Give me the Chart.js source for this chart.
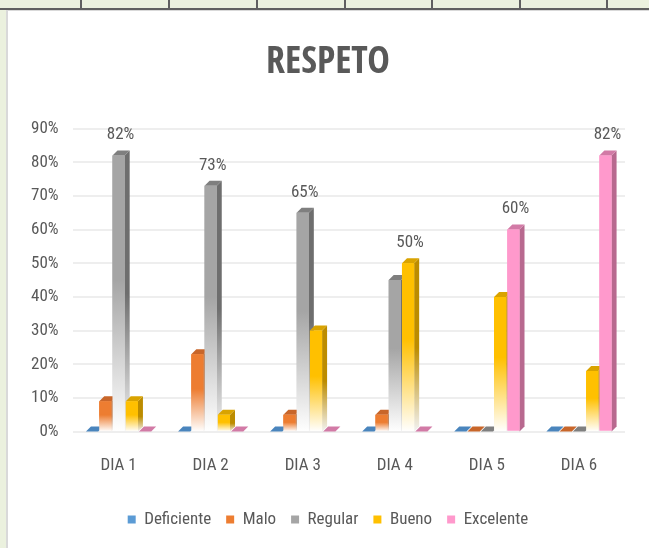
<!DOCTYPE html>
<html>
<head>
<meta charset="utf-8">
<script src="https://cdn.jsdelivr.net/npm/chart.js@4"></script>
<style>
  body { margin: 0; width: 649px; height: 548px; overflow: hidden; background: #ebf1de; position: relative; }
  .row { position: absolute; left: 0; top: 0; width: 649px; height: 8px; border-bottom: 2px solid #5f5f5f; }
  .cell { position: absolute; top: 0; width: 2px; height: 8px; background: #5f5f5f; }
  #box { position: absolute; left: 6px; top: 10px; width: 641px; height: 538px; background: #fff; border-left: 2px solid #d9d9d9; border-top: 1px solid #d9d9d9; }
</style>
</head>
<body>
<div class="row"></div>
<div class="cell" style="left:80px"></div>
<div class="cell" style="left:168px"></div>
<div class="cell" style="left:256px"></div>
<div class="cell" style="left:344px"></div>
<div class="cell" style="left:431px"></div>
<div class="cell" style="left:519px"></div>
<div class="cell" style="left:606px"></div>
<div id="box"><canvas id="myChart" width="641" height="537"></canvas></div>
<script>
const days = ["DIA 1", "DIA 2", "DIA 3", "DIA 4", "DIA 5", "DIA 6"];
const deficiente = [0, 0, 0, 0, 0, 0];
const malo = [9, 23, 5, 5, 0, 0];
const regular = [82, 73, 65, 45, 0, 0];
const bueno = [9, 5, 30, 50, 40, 18];
const excelente = [0, 0, 0, 0, 60, 82];

const FONT = "'Roboto Condensed', 'Open Sans Condensed', sans-serif";
const TITLE_FONT = "'Open Sans Condensed', 'Roboto Condensed', sans-serif";
const cxt = document.querySelector("#myChart");

// colors: front, side, top, fades toward the floor or not
const looks = [
  { front: "#5b9bd5", side: "#41719c", top: "#4a85bd", fade: true },
  { front: "#ed7d31", side: "#ae5a21", top: "#c8662a", fade: true },
  { front: "#a5a5a5", side: "#6e6e6e", top: "#7f7f7f", fade: true },
  { front: "#ffc000", side: "#bc8c00", top: "#d9a300", fade: true },
  { front: "#ff99cc", side: "#b8698f", top: "#d27aa6", fade: false },
];

function fadeFill(look) {
  return (c) => {
    const chart = c.chart;
    if (!chart.chartArea || c.type !== "data" || !look.fade) return look.front;
    const y = chart.scales.y;
    const top = y.getPixelForValue(c.raw);
    const bot = y.getPixelForValue(0);
    if (bot - top < 1) return look.front;
    const g = chart.ctx.createLinearGradient(0, top, 0, bot);
    g.addColorStop(0, look.front);
    g.addColorStop(0.45, look.front);
    g.addColorStop(1, "#ffffff");
    return g;
  };
}

// side and top faces, then the front again so the next bar covers this one's side
const depth = {
  id: "depth",
  afterDatasetsDraw(chart) {
    const ctx = chart.ctx;
    const d = 5;
    const base = chart.scales.y.getPixelForValue(0);
    chart.data.datasets.forEach((ds, i) => {
      const look = looks[i];
      chart.getDatasetMeta(i).data.forEach((bar) => {
        const l = bar.x - bar.width / 2;
        const r = bar.x + bar.width / 2;
        const t = bar.y;
        ctx.save();
        if (base - t > 0.5) {
          let side = look.side;
          if (look.fade) {
            side = ctx.createLinearGradient(0, t, 0, base);
            side.addColorStop(0, look.side);
            side.addColorStop(0.5, look.side);
            side.addColorStop(1, "#f2f2f2");
          }
          ctx.fillStyle = side;
          ctx.beginPath();
          ctx.moveTo(r, t);
          ctx.lineTo(r + d, t - d);
          ctx.lineTo(r + d, base - d);
          ctx.lineTo(r, base);
          ctx.closePath();
          ctx.fill();
        }
        ctx.fillStyle = look.top;
        ctx.beginPath();
        ctx.moveTo(l, t);
        ctx.lineTo(l + d, t - d);
        ctx.lineTo(r + d, t - d);
        ctx.lineTo(r, t);
        ctx.closePath();
        ctx.fill();
        ctx.restore();
        if (base - t > 0.5) bar.draw(ctx);
      });
    });

    // value label over the tallest bar of each day
    ctx.save();
    ctx.font = "17px " + FONT;
    ctx.fillStyle = "#595959";
    ctx.textAlign = "center";
    ctx.textBaseline = "bottom";
    days.forEach((day, j) => {
      let best = 0;
      chart.data.datasets.forEach((ds, i) => {
        if (ds.data[j] > chart.data.datasets[best].data[j]) best = i;
      });
      const bar = chart.getDatasetMeta(best).data[j];
      ctx.fillText(chart.data.datasets[best].data[j] + "%", bar.x + 2, bar.y - 12);
    });
    ctx.restore();
  },
};

const names = ["Deficiente", "Malo", "Regular", "Bueno", "Excelente"];
const series = [deficiente, malo, regular, bueno, excelente];

const config = {
  type: "bar",
  data: {
    labels: days,
    datasets: series.map((s, i) => ({
      label: names[i],
      data: s,
      backgroundColor: fadeFill(looks[i]),
      borderWidth: 0,
      barPercentage: 0.92,
      categoryPercentage: 0.72,
    })),
  },
  options: {
    responsive: false,
    animation: false,
    layout: { padding: { left: 23, right: 24, top: 0, bottom: 10 } },
    scales: {
      x: {
        grid: { display: false },
        border: { display: false },
        ticks: { color: "#595959", font: { family: FONT, size: 17 }, padding: 16 },
        // extra room between the day names and the legend
        afterFit: (scale) => {
          scale.height += 4;
        },
      },
      y: {
        min: 0,
        max: 90,
        ticks: {
          stepSize: 10,
          color: "#595959",
          font: { family: FONT, size: 17 },
          padding: 14,
          callback: (v) => v + "%",
        },
        grid: { color: "#eeeeee", lineWidth: 2, drawTicks: false },
        border: { display: false },
        // tick padding is counted twice in the width; drop the unused half
        afterFit: (scale) => {
          scale.width -= 14;
        },
      },
    },
    plugins: {
      title: {
        display: true,
        text: "RESPETO",
        color: "#595959",
        font: { family: TITLE_FONT, size: 38, weight: "bold" },
        padding: { top: 29, bottom: 43 },
      },
      legend: {
        position: "bottom",
        labels: {
          color: "#595959",
          font: { family: FONT, size: 17 },
          boxWidth: 8,
          boxHeight: 8,
          padding: 15,
          generateLabels: (chart) =>
            names.map((n, i) => ({
              text: n,
              fillStyle: looks[i].front,
              strokeStyle: looks[i].front,
              lineWidth: 0,
              fontColor: "#595959",
              datasetIndex: i,
            })),
        },
      },
      tooltip: { enabled: false },
    },
  },
  plugins: [depth],
};

// measure text only after the condensed fonts are ready
Promise.all([
  document.fonts.load("17px 'Roboto Condensed'"),
  document.fonts.load("bold 38px 'Open Sans Condensed'"),
]).finally(() => new Chart(cxt, config));
</script>
</body>
</html>
